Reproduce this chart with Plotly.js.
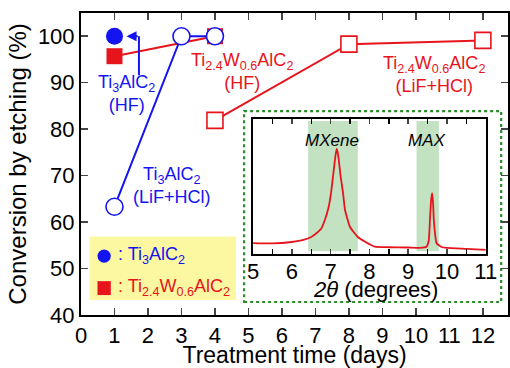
<!DOCTYPE html>
<html><head><meta charset="utf-8">
<script src="https://cdn.plot.ly/plotly-3.0.1.min.js"></script>
<style>html,body{margin:0;padding:0;background:#fff}#chart{width:510px;height:368px}</style>
</head><body><div id="chart"></div>
<script>
// Main chart data
const ti3HF_days = [1];
const ti3HF_conv = [100];
const ti3LiF_days = [1, 3, 4];
const ti3LiF_conv = [63.3, 100, 100];
const twHF_days = [1, 4];
const twHF_conv = [95.7, 100];
const twLiF_days = [4, 8, 12];
const twLiF_conv = [81.9, 98.3, 99.1];

// Inset XRD data (2theta, intensity a.u.)
const xrd_2theta = [5.0, 5.5, 6.0, 6.3, 6.5, 6.64, 6.75, 6.85, 6.95, 7.01, 7.08, 7.12, 7.155, 7.19, 7.26, 7.32, 7.37, 7.5, 7.7, 7.9, 8.14, 8.5, 9.0, 9.3, 9.47, 9.53, 9.56, 9.59, 9.617, 9.64, 9.66, 9.7, 9.73, 9.86, 10.0, 10.5, 11.0];
const xrd_int = [0.081, 0.078, 0.089, 0.104, 0.126, 0.156, 0.185, 0.252, 0.35, 0.452, 0.622, 0.72, 0.778, 0.74, 0.57, 0.45, 0.326, 0.2, 0.126, 0.089, 0.054, 0.05, 0.048, 0.046, 0.054, 0.1, 0.252, 0.4, 0.45, 0.38, 0.252, 0.13, 0.08, 0.052, 0.045, 0.038, 0.03];
const bandMXene = [6.42, 7.70];
const bandMAX = [9.215, 9.79];

const xTicks = [0,1,2,3,4,5,6,7,8,9,10,11,12];
const yTicks = [40,50,60,70,80,90,100];
const insetTicks = [5,6,7,8,9,10,11];

const BLUE = '#1414f0';
const RED = '#e8141c';
const FONT = 'Liberation Sans, Arial, sans-serif';

const traces = [
  {x: twHF_days, y: twHF_conv, mode: 'lines+markers', line: {color: RED, width: 2},
   marker: {symbol: 'square', size: 16, color: RED}, xaxis: 'x', yaxis: 'y'},
  {x: twLiF_days, y: twLiF_conv, mode: 'lines+markers', line: {color: RED, width: 2},
   marker: {symbol: 'square', size: 16, color: '#fff', line: {color: RED, width: 1.6}}},
  {x: ti3LiF_days, y: ti3LiF_conv, mode: 'lines+markers', line: {color: BLUE, width: 2},
   marker: {symbol: 'circle', size: 17, color: '#fff', line: {color: BLUE, width: 1.6}}},
  {x: ti3HF_days, y: ti3HF_conv, mode: 'markers',
   marker: {symbol: 'circle', size: 17, color: BLUE}},
  {x: xrd_2theta, y: xrd_int, mode: 'lines', line: {color: RED, width: 1.8, shape: 'spline', smoothing: 0.4},
   xaxis: 'x2', yaxis: 'y2'}
];

function ann(x, y, text, size, color, extra) {
  return Object.assign({xref: 'paper', yref: 'paper', x: x, y: y, text: text, showarrow: false,
    xanchor: 'center', yanchor: 'middle', align: 'center', font: {size: size, color: color}}, extra || {});
}

const layout = {
  width: 510, height: 368,
  margin: {l: 81, r: 2, t: 13, b: 53},
  paper_bgcolor: '#fff', plot_bgcolor: 'rgba(0,0,0,0)',
  showlegend: false,
  font: {family: FONT, size: 22, color: '#000'},
  xaxis: {range: [0, 12.75], tickvals: xTicks, ticktext: xTicks.map(String),
    ticks: 'inside', ticklen: 7, tickwidth: 1.5, showline: true, linewidth: 2, linecolor: '#000',
    mirror: 'ticks', showgrid: false, zeroline: false, tickfont: {size: 22},
    title: {text: 'Treatment time (days)', font: {size: 23}, standoff: 1}},
  yaxis: {range: [40, 105], tickvals: yTicks, ticktext: yTicks.map(String),
    ticks: 'inside', ticklen: 7, tickwidth: 1.5, showline: true, linewidth: 2, linecolor: '#000',
    mirror: 'ticks', showgrid: false, zeroline: false, tickfont: {size: 22},
    title: {text: 'Conversion by etching (%)', font: {size: 24}, standoff: 4}},
  xaxis2: {domain: [0.403, 0.948], anchor: 'y2', range: [5, 11], dtick: 1,
    ticks: 'inside', ticklen: 5, tickwidth: 1.5, showline: true, linewidth: 2, linecolor: '#000',
    mirror: 'ticks', showgrid: false, zeroline: false, tickfont: {size: 22}, ticklabelstandoff: -3,
    minor: {dtick: 0.5, ticks: 'inside', ticklen: 5, tickwidth: 1.5, tickcolor: '#000'}},
  yaxis2: {domain: [0.202, 0.649], anchor: 'x2', range: [0, 1], showticklabels: false,
    ticks: '', showline: true, linewidth: 2, linecolor: '#000', mirror: true,
    showgrid: false, zeroline: false},
  shapes: [
    {type: 'rect', xref: 'paper', yref: 'paper', x0: 0.382, x1: 0.984, y0: 0.043, y1: 0.675,
     line: {color: '#2a8c2a', width: 2.2, dash: 'dot'}, fillcolor: 'rgba(255,255,255,1)', layer: 'below'},
    {type: 'rect', xref: 'x2', yref: 'y2', x0: bandMXene[0], x1: bandMXene[1], y0: 0.02, y1: 0.985,
     line: {width: 0}, fillcolor: '#c2e2c2', layer: 'below'},
    {type: 'rect', xref: 'x2', yref: 'y2', x0: bandMAX[0], x1: bandMAX[1], y0: 0.02, y1: 0.985,
     line: {width: 0}, fillcolor: '#c2e2c2', layer: 'below'},
    {type: 'rect', xref: 'paper', yref: 'paper', x0: 0.02, x1: 0.363, y0: 0.05, y1: 0.26,
     line: {width: 0}, fillcolor: '#fcf8a2', layer: 'below'},
    {type: 'circle', xref: 'paper', yref: 'paper', x0: 0.0386, x1: 0.0698, y0: 0.173, y1: 0.217,
     line: {width: 0}, fillcolor: BLUE},
    {type: 'rect', xref: 'paper', yref: 'paper', x0: 0.0386, x1: 0.0698, y0: 0.066, y1: 0.112,
     line: {width: 0}, fillcolor: RED},
    {type: 'line', xref: 'x', yref: 'y', x0: 1.73, x1: 1.73, y0: 91.6, y1: 100,
     line: {color: BLUE, width: 2}}
  ],
  annotations: [
    {xref: 'x', yref: 'y', x: 1.36, y: 100, ax: 1.74, ay: 100, axref: 'x', ayref: 'y', text: '',
     showarrow: true, arrowhead: 2, arrowsize: 1, arrowwidth: 2, arrowcolor: BLUE},
    ann(0.106, 0.735, 'Ti<sub>3</sub>AlC<sub>2</sub><br>(HF)', 18, BLUE),
    ann(0.212, 0.43, 'Ti<sub>3</sub>AlC<sub>2</sub><br>(LiF+HCl)', 18, BLUE),
    ann(0.378, 0.805, 'Ti<sub>2.4</sub>W<sub>0.6</sub>AlC<sub>2</sub><br>(HF)', 18, RED),
    ann(0.827, 0.795, 'Ti<sub>2.4</sub>W<sub>0.6</sub>AlC<sub>2</sub><br>(LiF+HCl)', 18, RED),
    ann(0.083, 0.198, ': Ti<sub>3</sub>AlC<sub>2</sub>', 18, BLUE, {xanchor: 'left'}),
    ann(0.083, 0.09, ': Ti<sub>2.4</sub>W<sub>0.6</sub>AlC<sub>2</sub>', 18, RED, {xanchor: 'left'}),
    ann(0.689, 0.084, '<i>2θ</i> (degrees)', 22, '#000'),
    {xref: 'x2', yref: 'y2', x: 7.03, y: 0.84, text: '<i>MXene</i>', showarrow: false,
     font: {size: 17, color: '#000'}},
    {xref: 'x2', yref: 'y2', x: 9.48, y: 0.84, text: '<i>MAX</i>', showarrow: false,
     font: {size: 17, color: '#000'}}
  ]
};

Plotly.newPlot('chart', traces, layout, {displayModeBar: false, staticPlot: true});
</script></body></html>
